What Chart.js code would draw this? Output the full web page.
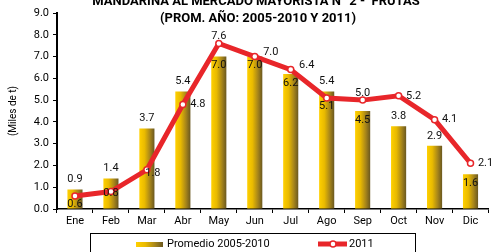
<!DOCTYPE html>
<html>
<head>
<meta charset="utf-8">
<script src="https://cdn.jsdelivr.net/npm/chart.js@4.4.1/dist/chart.umd.min.js"></script>
<style>
  html, body { margin: 0; padding: 0; background: #fff; }
  #wrap { width: 491px; height: 252px; overflow: hidden; position: relative; }
  canvas { position: absolute; left: 0; top: 0; }
</style>
</head>
<body>
<div id="wrap"><canvas id="chart" width="494" height="252"></canvas></div>
<script>
const months = ["Ene", "Feb", "Mar", "Abr", "May", "Jun", "Jul", "Ago", "Sep", "Oct", "Nov", "Dic"];
const promedio = [0.9, 1.4, 3.7, 5.4, 7.0, 7.0, 6.2, 5.4, 4.5, 3.8, 2.9, 1.6];
const year2011 = [0.6, 0.8, 1.8, 4.8, 7.6, 7.0, 6.4, 5.1, 5.0, 5.2, 4.1, 2.1];
const yTicks = [0, 1, 2, 3, 4, 5, 6, 7, 8, 9];

const titleLines = ["MANDARINA AL MERCADO MAYORISTA N° 2 -  FRUTAS", "(PROM. AÑO: 2005-2010 Y 2011)"];
const seriesNames = ["Promedio 2005-2010", "2011"];

// where each value label sits, like the excel chart
const barLabelPos = ["out", "out", "out", "out", "in", "in", "in", "out", "in", "out", "out", "in"];
const lineLabelPos = ["below", "center", "right", "right", "top", "topright", "topright", "below", "top", "right", "right", "right"];

const FONT = "Roboto, 'Open Sans', Arial, sans-serif";
const RED = "#E8262A";

function barGradient(ctx, x, w) {
  const g = ctx.createLinearGradient(x - w / 2, 0, x + w / 2, 0);
  g.addColorStop(0, "#FFD000");
  g.addColorStop(0.35, "#E9BA00");
  g.addColorStop(0.7, "#A8861A");
  g.addColorStop(1, "#6A5820");
  return g;
}

const barPct = 0.42;

const extras = {
  id: "extras",
  afterDatasetsDraw(chart) {
    const ctx = chart.ctx;
    const xs = chart.scales.x, ys = chart.scales.y;
    ctx.save();
    ctx.fillStyle = "#111";
    ctx.font = "11px " + FONT;
    ctx.textAlign = "center";
    ctx.textBaseline = "middle";
    promedio.forEach((v, i) => {
      const x = xs.getPixelForValue(i);
      const y = ys.getPixelForValue(v);
      const dy = barLabelPos[i] === "in" ? 9 : -10;
      ctx.fillText(v.toFixed(1), x, y + dy);
    });
    year2011.forEach((v, i) => {
      const x = xs.getPixelForValue(i);
      const y = ys.getPixelForValue(v);
      let dx = 0, dy = 0;
      switch (lineLabelPos[i]) {
        case "below": dy = 8; break;
        case "center": dy = 2; break;
        case "right": dx = 15; break;
        case "top": dy = -7; break;
        case "topright": dx = 16; dy = -4; break;
      }
      if (i === 2) { dx = 6; dy = 3; }
      ctx.fillText(v.toFixed(1), x + dx, y + dy);
    });
    ctx.restore();
  },
  afterDraw(chart) {
    const ctx = chart.ctx;
    ctx.save();
    // title
    ctx.fillStyle = "#000";
    ctx.font = "bold 13px " + FONT;
    ctx.textAlign = "center";
    ctx.textBaseline = "middle";
    ctx.fillText(titleLines[0], 256, 2);
    ctx.fillText(titleLines[1], 258, 19);

    // legend
    const top = chart.height - 19;
    ctx.strokeStyle = "#000";
    ctx.lineWidth = 1;
    ctx.strokeRect(90.5, top + 0.5, 325, 40);
    const cy = top + 11;
    ctx.fillStyle = barGradient(ctx, 149.5, 27);
    ctx.fillRect(136, cy - 2, 27, 5);
    ctx.fillStyle = "#000";
    ctx.font = "11px " + FONT;
    ctx.textAlign = "left";
    ctx.fillText(seriesNames[0], 167, cy);
    ctx.strokeStyle = RED;
    ctx.lineWidth = 5;
    ctx.beginPath();
    ctx.moveTo(318, cy); ctx.lineTo(347, cy);
    ctx.stroke();
    ctx.lineWidth = 1.5;
    ctx.fillStyle = "#fff";
    ctx.beginPath();
    ctx.arc(333, cy, 3, 0, Math.PI * 2);
    ctx.fill(); ctx.stroke();
    ctx.fillStyle = "#000";
    ctx.fillText(seriesNames[1], 349, cy);
    ctx.restore();
  }
};

new Chart(document.getElementById("chart"), {
  type: "bar",
  data: {
    labels: months,
    datasets: [
      {
        type: "line",
        label: seriesNames[1],
        data: year2011,
        borderColor: RED,
        borderWidth: 5,
        tension: 0,
        pointRadius: 3,
        pointBorderWidth: 1.5,
        pointBackgroundColor: "#fff",
        pointBorderColor: RED,
        order: 0
      },
      {
        label: seriesNames[0],
        data: promedio,
        barPercentage: barPct,
        categoryPercentage: 1,
        backgroundColor: (c) => {
          const chart = c.chart;
          if (!chart.chartArea || c.type !== "data") return "#E9BA00";
          const xs = chart.scales.x;
          const step = xs.getPixelForValue(1) - xs.getPixelForValue(0);
          return barGradient(chart.ctx, xs.getPixelForValue(c.dataIndex), step * barPct);
        },
        order: 1
      }
    ]
  },
  options: {
    responsive: false,
    animation: false,
    layout: { padding: { top: 13, right: 0, left: 0, bottom: 0 } },
    plugins: {
      legend: { display: false },
      tooltip: { enabled: false },
      title: { display: false }
    },
    scales: {
      x: {
        offset: true,
        grid: { display: true, offset: true, drawOnChartArea: false, drawTicks: true, tickLength: 4, color: "#000" },
        border: { color: "#000", width: 1.5 },
        ticks: { color: "#000", font: { family: FONT, size: 11 }, padding: 2, maxRotation: 0 },
        afterFit: (s) => { s.height = 43; }
      },
      y: {
        min: 0,
        max: 9,
        afterBuildTicks: (s) => { s.ticks = yTicks.map((v) => ({ value: v })); },
        grid: { display: true, drawOnChartArea: false, drawTicks: true, tickLength: 4, color: "#000" },
        border: { color: "#000", width: 2 },
        ticks: { color: "#000", font: { family: FONT, size: 11 }, padding: 4, callback: (v) => Number(v).toFixed(1) },
        title: { display: true, text: "(Miles de t)", color: "#000", font: { family: FONT, size: 10 }, padding: { top: 7, bottom: 0 } },
        afterFit: (s) => { s.width = 57; }
      }
    }
  },
  plugins: [extras]
});
</script>
</body>
</html>
